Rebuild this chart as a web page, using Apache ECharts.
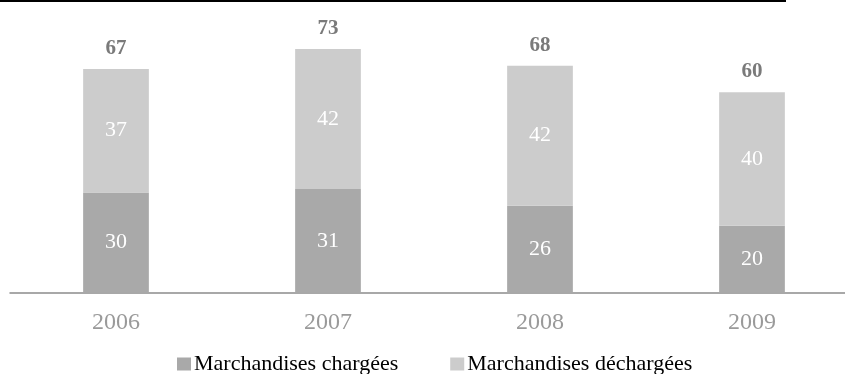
<!DOCTYPE html>
<html>
<head>
<meta charset="utf-8">
<script src="https://cdn.jsdelivr.net/npm/echarts@6/dist/echarts.min.js"></script>
<style>html,body{margin:0;padding:0;background:#fff;overflow:hidden}#c{width:858px;height:374px}</style>
</head>
<body>
<div id="c"></div>
<script>
const categories = ['2006', '2007', '2008', '2009'];
const charged = [30, 31, 26, 20];
const discharged = [37, 42, 42, 40];
const totals = [67, 73, 68, 60];
const seriesNames = ['Marchandises chargées', 'Marchandises déchargées'];

const chart = echarts.init(document.getElementById('c'), null, {renderer: 'canvas'});
const serif = '"Liberation Serif", "Times New Roman", serif';
chart.setOption({
  animation: false,
  graphic: [{type: 'rect', shape: {x: 0, y: 0, width: 786, height: 2}, style: {fill: '#000'}}],
  grid: {left: 10, right: 0, top: 25.6, bottom: 81.5, containLabel: false},
  legend: {
    data: seriesNames, top: 348, left: 172, itemWidth: 14, itemHeight: 13, itemGap: 52,
    icon: 'rect', textStyle: {fontFamily: serif, fontSize: 22, color: '#000', padding: [0, 0, 0, -2]}
  },
  xAxis: {
    type: 'category', data: categories,
    axisLine: {lineStyle: {color: '#8c8c8c', width: 1.5}}, axisTick: {show: false},
    axisLabel: {fontFamily: serif, fontSize: 24, color: '#9a9a9a', margin: 18}
  },
  yAxis: {type: 'value', min: 0, max: 80, show: false, splitLine: {show: false}},
  series: [
    {name: seriesNames[0], type: 'bar', stack: 's', data: charged, barWidth: '31%',
     itemStyle: {color: '#a9a9a9'},
     label: {show: true, position: 'inside', color: '#fff', fontFamily: serif, fontSize: 22}},
    {name: seriesNames[1], type: 'bar', stack: 's', data: discharged, barWidth: '31%',
     itemStyle: {color: '#cccccc'},
     label: {show: true, position: 'inside', color: '#fff', fontFamily: serif, fontSize: 22}},
    {name: 'total', type: 'bar', stack: 's', data: totals.map(() => 0), barWidth: '31%',
     itemStyle: {color: 'transparent'},
     label: {show: true, position: 'top', distance: 10, color: '#7a7a7a', fontFamily: serif,
       fontSize: 21, fontWeight: 'bold', formatter: p => totals[p.dataIndex]}}
  ]
});
</script>
</body>
</html>
